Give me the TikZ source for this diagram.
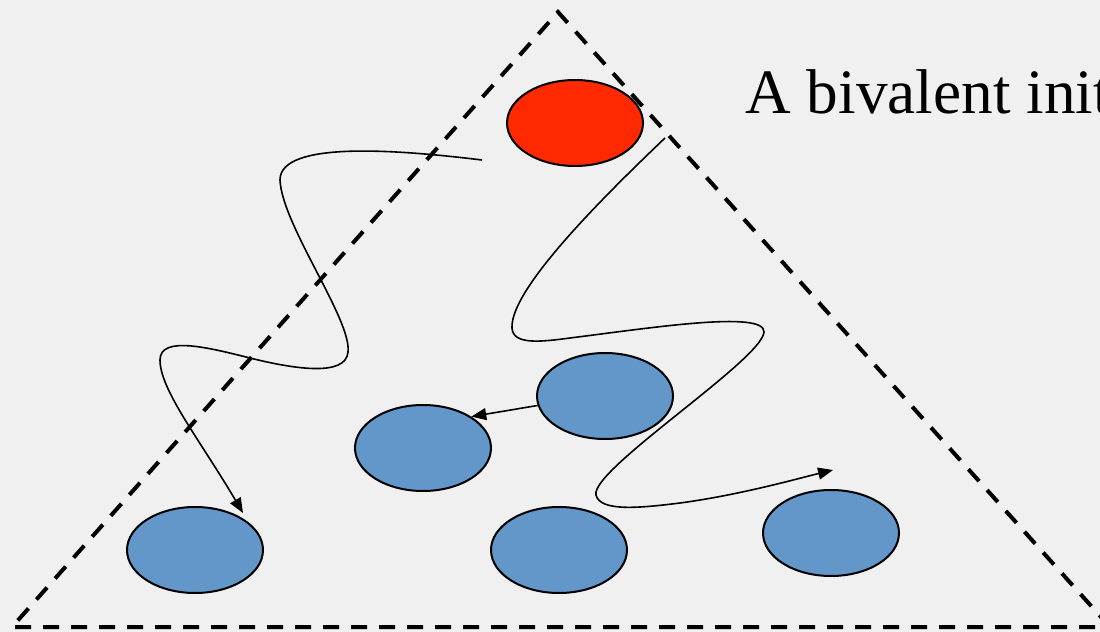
\documentclass[tikz,border=0pt]{standalone}
\usepackage{fontspec}
\setmainfont{Liberation Serif}
\usetikzlibrary{shapes.geometric,arrows.meta}
\newlength{\du}
\setlength{\du}{0.02cm}
\definecolor{slidegray}{rgb}{0.941176, 0.941176, 0.941176}
\definecolor{redstate}{rgb}{1.000000, 0.160000, 0.000000}
\definecolor{bluestate}{rgb}{0.388000, 0.592000, 0.788000}
\tikzset{
  state/.style={ellipse, draw=black, line width=2\du, inner sep=0pt,
    minimum width=136\du, minimum height=86\du, fill=bluestate},
  border/.style={line width=4\du, dash pattern=on 16\du off 12\du},
  walk/.style={line width=1.6\du},
  arrowed/.style={-{Triangle[length=8.5pt, width=6.8pt]}},
}

\begin{document}
\begin{tikzpicture}
\pgftransformxscale{1.000000}
\pgftransformyscale{-1.000000}
\fill[slidegray] (0\du,0\du) rectangle (1100\du,632\du);
\useasboundingbox (0\du,0\du) rectangle (1100\du,632\du);
\clip (0\du,0\du) rectangle (1100\du,632\du);
% the dashed triangle
\coordinate (apex) at (558.000000\du,12.000000\du);
\coordinate (left) at (12.000000\du,627.000000\du);
\coordinate (right) at (1110.000000\du,627.000000\du);
\draw[border] (right) -- (apex) -- (left) -- (right);
% configurations
\node[state, fill=redstate] (init) at (575.000000\du,123.000000\du){};
\node[state] (c1) at (195.000000\du,550.000000\du){};
\node[state] (c2) at (423.000000\du,448.000000\du){};
\node[state] (c3) at (605.000000\du,396.000000\du){};
\node[state] (c4) at (559.000000\du,550.000000\du){};
\node[state] (c5) at (831.000000\du,533.000000\du){};
% setfont left to latex
\node[anchor=base west, inner sep=0pt, font=\fontsize{36}{40}\selectfont] (title) at (745.000000\du,113.000000\du){A bivalent init};
% executions
\coordinate (w1) at (482.000000\du,160.000000\du);
\coordinate (e1) at (243.000000\du,513.000000\du);
\draw[walk, arrowed] (w1) .. controls (400\du,150\du) and (280\du,140\du) .. (280\du,180\du)
  .. controls (282\du,225\du) and (352\du,320\du) .. (348\du,352\du)
  .. controls (346\du,378\du) and (290\du,368\du) .. (250\du,358\du)
  .. controls (210\du,348\du) and (160\du,335\du) .. (160\du,360\du)
  .. controls (160\du,390\du) and (200\du,440\du) .. (e1);
\coordinate (w2) at (665.000000\du,138.000000\du);
\coordinate (e2) at (833.000000\du,470.000000\du);
\draw[walk, arrowed] (w2) .. controls (600\du,200\du) and (510\du,290\du) .. (512\du,328\du)
  .. controls (513\du,345\du) and (540\du,342\du) .. (570\du,338\du)
  .. controls (650\du,328\du) and (765\du,310\du) .. (764\du,332\du)
  .. controls (762\du,360\du) and (590\du,470\du) .. (596\du,495\du)
  .. controls (600\du,512\du) and (640\du,508\du) .. (680\du,503\du)
  .. controls (740\du,495\du) and (800\du,478\du) .. (e2);
\draw[walk, arrowed] (c3.188) -- (c2.33);
\end{tikzpicture}
\end{document}
